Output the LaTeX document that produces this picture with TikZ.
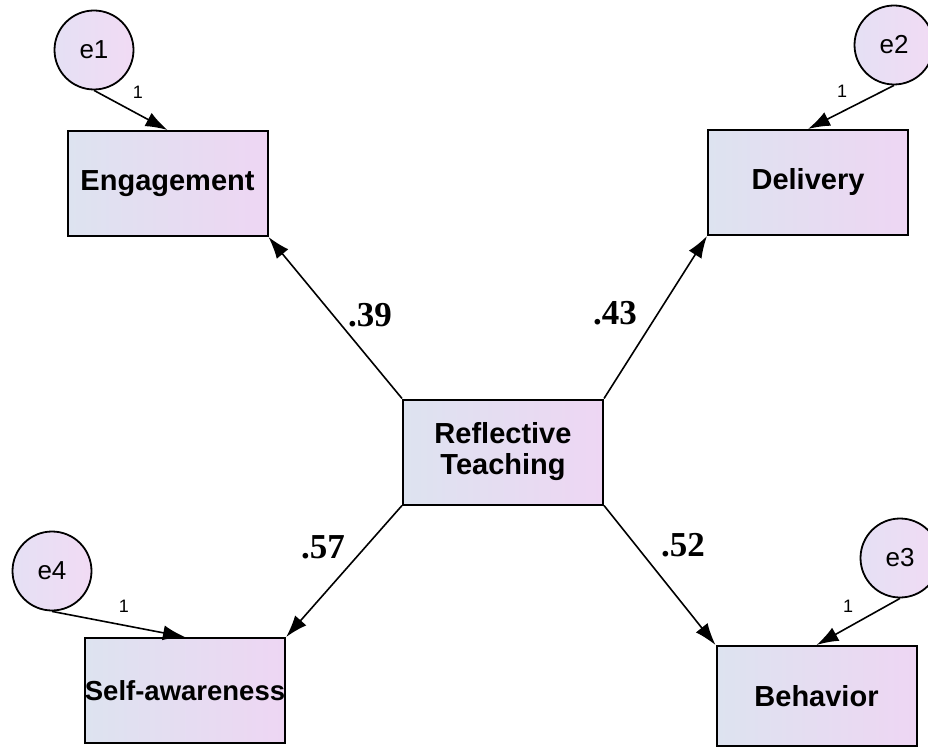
\documentclass[tikz,border=0pt]{standalone}
\usepackage{fontspec}
\setmainfont{Liberation Sans}
\newfontfamily\coeffont{Liberation Serif}
\usetikzlibrary{arrows.meta}
\definecolor{boxleft}{RGB}{221,227,240}
\definecolor{boxright}{RGB}{238,214,243}
\definecolor{errleft}{RGB}{229,224,244}
\definecolor{errright}{RGB}{241,219,244}
\tikzset{
  var/.style={draw, line width=2pt, minimum width=200pt, minimum height=105pt,
    left color=boxleft, right color=boxright, inner sep=0pt, align=center,
    font=\fontsize{29}{31}\selectfont\bfseries},
  err/.style={draw, circle, line width=1.8pt, minimum size=79pt, inner sep=0pt,
    left color=errleft, right color=errright, font=\fontsize{26}{28}\selectfont},
  effect/.style={line width=1.6pt, -{Latex[length=22pt,width=15pt]}},
  coef/.style={font=\coeffont\fontsize{35}{38}\selectfont\bfseries},
  one/.style={font=\fontsize{18}{20}\selectfont}
}
\begin{document}
\begin{tikzpicture}[x=1pt,y=-1pt]
  \useasboundingbox (0,0) rectangle (928,751);
  \clip (0,0) rectangle (928,751);
  % observed variables
  \node[var] (eng) at (167.5,183.5) {Engagement};
  \node[var] (del) at (808,182.5) {Delivery};
  \node[var] (rt) at (503,452) {Reflective\\Teaching};
  \node[var, font=\fontsize{27.5}{31}\selectfont\bfseries] (self) at (185,690.5) {Self-awareness};
  \node[var, minimum height=100pt] (beh) at (816.5,696) {Behavior};
  % error terms
  \node[err] (e1) at (94,50) {e1};
  \node[err] (e2) at (894,45) {e2};
  \node[err] (e3) at (900,558) {e3};
  \node[err] (e4) at (52,571) {e4};
  % paths
  \draw[effect] (rt.north west) -- (eng.south east);
  \draw[effect] (rt.north east) -- (del.south west);
  \draw[effect] (rt.south west) -- (self.north east);
  \draw[effect] (rt.south east) -- (beh.north west);
  \draw[effect] (e1.south) -- (eng.north);
  \draw[effect] (e2.south) -- (del.north);
  \draw[effect] (e3.south) -- (beh.north);
  \draw[effect] (e4.south) -- (self.north);
  % weights
  \node[coef] (w39) at (370,315) {.39};
  \node[coef] (w43) at (615,313) {.43};
  \node[coef] (w57) at (323,547) {.57};
  \node[coef] (w52) at (683,545) {.52};
  \node[one] (one1) at (138,92) {1};
  \node[one] (one2) at (842,91) {1};
  \node[one] (one3) at (848,606) {1};
  \node[one] (one4) at (124,606) {1};
\end{tikzpicture}
\end{document}
